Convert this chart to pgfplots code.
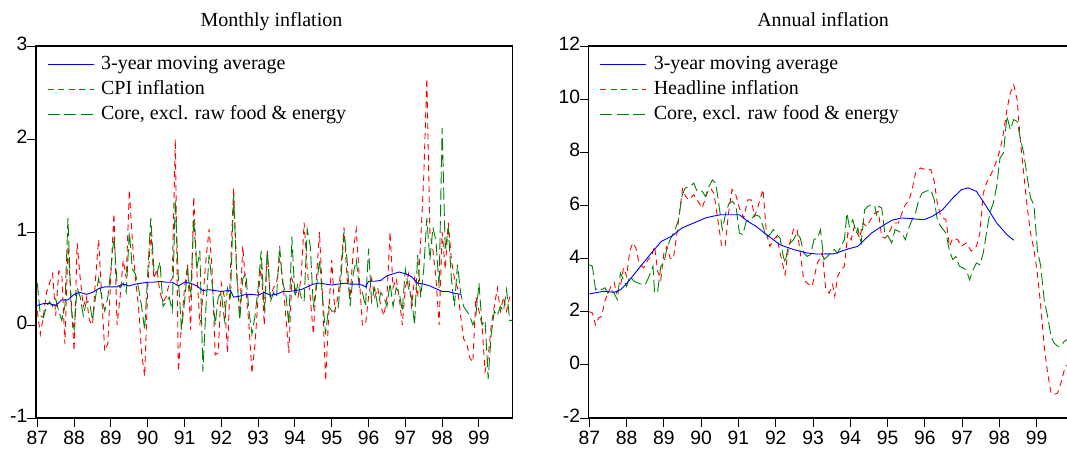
\documentclass[border=0pt]{standalone}
\usepackage{fontspec}
\setmainfont{Liberation Serif}
\newfontfamily\arialf{Liberation Sans}
\usepackage{pgfplots}
\pgfplotsset{compat=1.18}
\usepackage{pgfplotstable}

\definecolor{eblue}{RGB}{0,0,255}
\definecolor{ered}{RGB}{255,0,0}
\definecolor{egreen}{RGB}{0,128,0}

% monthly data, m = months since Jan 1987
\pgfplotstableread{
m v
0 0.15
1 -0.1
2 0.1
3 0.35
4 0.45
5 0.55
6 0.1
7 0.58
8 0.55
9 -0.2
10 0.85
11 0.3
12 -0.28
13 0.88
14 0.5
15 0.2
16 0.3
17 0.05
18 0.0
19 0.5
20 0.92
21 0.3
22 -0.28
23 -0.2
24 0.55
25 1.2
26 0.0
27 0.3
28 0.7
29 0.5
30 1.45
31 0.9
32 0.5
33 0.2
34 -0.3
35 -0.55
36 0.4
37 1.0
38 0.5
39 0.6
40 0.35
41 0.25
42 0.3
43 0.45
44 0.5
45 2.0
46 -0.5
47 0.0
48 0.4
49 0.65
50 -0.05
51 1.38
52 0.6
53 0.0
54 0.3
55 0.7
56 1.03
57 0.6
58 -0.32
59 -0.3
60 0.45
61 0.3
62 -0.3
63 0.6
64 1.48
65 0.6
66 0.1
67 0.85
68 0.4
69 0.0
70 -0.52
71 -0.2
72 0.3
73 0.65
74 0.0
75 0.8
76 0.3
77 0.4
78 0.45
79 0.7
80 0.5
81 0.1
82 -0.3
83 0.5
84 0.4
85 0.3
86 0.5
87 1.1
88 0.6
89 0.3
90 -0.1
91 0.5
92 1.0
93 0.3
94 -0.6
95 0.1
96 0.7
97 0.15
98 0.3
99 0.6
100 1.05
101 0.5
102 0.3
103 0.8
104 1.03
105 0.5
106 0.0
107 0.0
108 0.3
109 0.5
110 0.3
111 0.4
112 0.2
113 0.1
114 0.3
115 1.0
116 0.4
117 0.5
118 0.3
119 0.0
120 0.4
121 0.55
122 0.2
123 0.5
124 0.3
125 0.9
126 1.6
127 2.65
128 1.0
129 0.8
130 0.5
131 0.0
132 1.0
133 0.6
134 1.1
135 0.7
136 0.5
137 0.4
138 0.1
139 -0.15
140 -0.2
141 -0.35
142 -0.4
143 0.3
144 0.15
145 0.0
146 -0.5
147 -0.35
148 0.0
149 0.2
150 0.4
151 0.15
152 0.3
153 0.15
154 0.3
155 0.3
}\cpiM

\pgfplotstableread{
m v
0 0.45
1 0.1
2 0.08
3 0.2
4 0.25
5 0.2
6 0.28
7 0.15
8 0.05
9 0.2
10 1.15
11 0.2
12 -0.05
13 0.4
14 0.3
15 0.1
16 0.25
17 0.25
18 0.05
19 0.3
20 0.5
21 0.3
22 0.15
23 0.3
24 0.6
25 0.95
26 0.45
27 0.4
28 0.45
29 0.35
30 1.0
31 0.6
32 0.55
33 0.4
34 0.2
35 -0.05
36 0.55
37 1.15
38 0.6
39 0.55
40 0.68
41 0.2
42 0.25
43 0.3
44 0.15
45 1.35
46 0.5
47 -0.05
48 0.25
49 0.6
50 0.3
51 1.15
52 0.6
53 0.8
54 -0.5
55 0.2
56 0.75
57 0.45
58 0.0
59 0.3
60 0.35
61 0.05
62 0.4
63 0.3
64 1.4
65 0.55
66 0.05
67 0.5
68 0.55
69 0.15
70 -0.1
71 0.1
72 0.4
73 0.8
74 0.15
75 0.8
76 0.25
77 0.35
78 0.3
79 0.85
80 0.45
81 0.35
82 0.0
83 0.95
84 0.3
85 0.45
86 0.3
87 0.25
88 1.03
89 0.85
90 0.2
91 0.4
92 0.7
93 0.3
94 -0.1
95 0.2
96 0.15
97 0.15
98 0.15
99 0.5
100 1.0
101 0.7
102 0.2
103 0.55
104 0.7
105 0.4
106 0.35
107 0.2
108 0.82
109 0.25
110 0.4
111 0.2
112 0.35
113 0.3
114 0.2
115 0.45
116 0.2
117 0.4
118 0.35
119 0.15
120 0.6
121 0.4
122 0.3
123 0.0
124 0.75
125 0.3
126 0.6
127 1.15
128 0.7
129 1.05
130 0.9
131 0.4
132 2.12
133 0.8
134 1.05
135 0.5
136 0.2
137 0.65
138 0.35
139 0.2
140 0.15
141 0.1
142 0.0
143 0.1
144 0.45
145 0.0
146 0.05
147 -0.58
148 -0.1
149 0.15
150 0.1
151 0.2
152 0.15
153 0.38
154 0.05
155 0.05
}\coreM

\pgfplotstableread{
m v
0 0.21
2 0.23
4 0.23
6 0.21
8 0.27
10 0.27
12 0.33
14 0.35
16 0.33
18 0.35
20 0.39
22 0.41
24 0.41
26 0.41
28 0.44
30 0.42
32 0.44
34 0.45
36 0.46
38 0.46
40 0.47
42 0.46
44 0.46
46 0.42
48 0.46
50 0.45
52 0.42
54 0.37
56 0.38
58 0.37
60 0.36
62 0.37
63 0.37
64 0.30
66 0.31
68 0.33
70 0.33
72 0.32
74 0.35
76 0.32
78 0.33
80 0.36
82 0.36
84 0.37
86 0.38
88 0.41
90 0.44
92 0.45
94 0.44
96 0.43
98 0.44
100 0.45
102 0.44
104 0.44
106 0.43
107 0.41
108 0.47
110 0.47
112 0.48
114 0.53
116 0.55
118 0.57
120 0.55
122 0.52
124 0.45
126 0.44
128 0.42
130 0.39
132 0.36
134 0.36
136 0.34
138 0.33
}\maM

% annual data
\pgfplotstableread{
m v
0 2.0
1 1.95
2 1.5
3 1.77
4 1.83
5 2.4
6 2.7
7 2.95
8 3.1
8.7 2.7
10 2.95
11 3.65
12 3.33
13 4.28
14 4.59
15 4.4
16 3.83
17.5 3.65
18.9 3.96
20 4.08
21 4.46
22 3.52
23 3.2
24 4.2
25 4.46
26 4.02
27 3.98
28 4.77
29 5.71
30 6.62
31 6.34
32 6.21
33.6 6.4
34.7 6.21
36.3 5.9
37.9 6.46
39 6.65
40.1 6.46
41.2 5.59
42.6 4.46
43.7 4.46
44.8 5.71
45.9 6.6
47 6.46
48.3 5.9
49.7 5.53
51 6.21
52.1 6.21
53.2 5.59
54.3 5.97
55.9 6.6
57 4.96
58.1 4.46
59.2 4.71
60.3 4.84
61.4 4.21
63 3.4
64.1 4.4
65.7 5.09
66.8 5.15
67.9 4.21
69 3.2
70.1 3.08
71.7 2.95
73.4 3.83
75 4.21
76.1 2.83
77.2 2.7
78.3 3.02
79 2.58
79.9 3.33
81 3.58
82.1 3.71
83.2 4.96
84.3 4.71
85.3 5.21
87 4.77
88.1 5.34
89.2 5.21
90.2 5.4
91.9 5.71
93 5.78
94.1 4.84
95.1 4.77
96.2 4.9
97.9 5.34
99.5 5.34
100.6 5.71
101.7 6.03
102.8 6.15
103.9 6.6
105 7.22
106.6 7.41
108.2 7.35
109.9 7.35
111 6.91
112 6.09
113.1 5.59
114.8 5.46
115.9 4.46
117 4.77
118.6 4.71
119.7 4.46
121.3 4.59
122.9 4.28
124.6 4.46
125.7 4.96
126.8 6.46
127.8 6.84
129.5 7.22
130.6 7.53
132.2 8.09
133.3 8.72
134.4 9.6
135.5 10.23
136.6 10.54
137.7 9.98
138.7 8.47
139.8 7.22
140.9 5.97
142 4.96
143.1 4.34
144.2 3.46
145.3 2.2
146.4 0.7
147.5 -0.3
148.6 -1.06
149.6 -1.12
150.7 -1.06
151.8 -0.68
152.9 -0.18
153.8 0.0
155 0.2
}\headA

\pgfplotstableread{
m v
0 3.77
1 3.7
2 2.83
3 2.9
4 2.83
5 2.9
6 2.7
7 2.83
8 2.7
9 2.45
10 3.46
11 3.2
12 2.95
13 3.33
14.5 3.14
15.6 3.08
17 3.02
18 3.02
19 3.27
20.5 3.71
21 2.7
22 2.77
23 3.71
24 3.83
25 4.4
26 4.71
27.6 5.09
28.7 5.46
29.8 6.34
30.8 6.65
32.5 6.71
33.6 6.84
34.7 6.53
36.3 6.53
37.4 6.34
38.5 6.71
39.6 6.96
40.7 6.84
41.7 6.03
42.8 5.09
43.9 5.71
45 6.09
46.1 6.15
47.2 5.97
48.3 4.96
49.4 4.9
50.5 5.4
52.1 5.46
53.2 5.65
54.8 5.59
55.9 5.21
57 4.77
58.1 4.9
59.2 5.09
60.3 4.9
61.4 4.77
62.2 4.21
63 3.83
64.1 4.52
65.7 4.71
66.8 4.96
67.9 4.77
69 4.21
70.1 4.08
71.2 4.15
72.3 4.71
73.4 4.77
74.4 5.09
75.5 3.96
76.6 4.08
77.7 4.21
78.8 4.34
79.9 4.21
81 4.46
82.1 4.71
82.9 5.71
83.7 5.21
84.8 5.46
85.9 4.96
86.4 5.15
87.5 4.59
88.6 5.84
89.7 5.97
90.8 6.03
91.9 5.97
92.4 5.65
93.2 5.97
94.1 5.9
95.1 4.96
96.2 4.84
97.3 4.59
98.4 5.09
99.5 5.03
100.6 4.96
101.7 4.71
102.8 5.15
103.9 5.46
105 5.71
106 6.21
107.1 6.46
108.2 6.53
109.9 6.59
111 6.21
112 5.46
113.1 5.21
114.8 4.96
115.9 4.28
117 3.96
118 4.08
119.1 3.71
120.2 3.65
121.3 3.58
122.4 3.2
123.5 3.58
124.6 3.83
125.7 3.77
126.8 4.21
127.8 4.96
128.9 5.71
130 6.09
131.1 6.71
132.2 7.79
133.3 7.97
134.4 9.36
135.5 8.85
136.6 9.23
137.7 9.16
138.7 8.54
139.8 7.97
140.9 7.09
142 6.28
143.1 6.03
144.2 4.34
145.3 3.71
146.4 2.45
147.5 1.83
148.6 1.07
149.6 0.82
150.7 0.7
151.8 0.7
152.9 0.89
153.8 0.95
155 0.95
}\coreA

\pgfplotstableread{
m v
0 2.67
4.7 2.77
8 2.73
10.1 2.83
12.3 3.1
15.6 3.58
19.9 4.2
23.2 4.65
26.5 4.84
29.8 5.15
33 5.31
37.4 5.53
39.6 5.59
42.3 5.65
48.3 5.65
51 5.4
53.7 5.21
57 4.9
61.4 4.52
65.7 4.34
70.1 4.21
73.4 4.17
78.8 4.18
83.2 4.36
86.4 4.46
90.8 4.96
94.1 5.21
97.3 5.44
100.6 5.53
103.9 5.5
107.7 5.46
110.4 5.59
113.7 5.84
117 6.28
119.7 6.59
121.9 6.66
124.6 6.53
127.8 5.96
131.1 5.34
134.4 4.9
136.6 4.69
}\maA

\pgfplotsset{
  panel/.style={
    scale only axis, anchor=south west, height=372pt,
    axis line style={line width=1.5pt},
    tick align=outside, major tick length=8.5pt,
    every tick/.style={black, line width=1pt},
    xtick pos=bottom, ytick pos=left,
    xtick={0,12,24,36,48,60,72,84,96,108,120,132,144},
    xticklabels={87,88,89,90,91,92,93,94,95,96,97,98,99},
    tick label style={font=\arialf\fontsize{19.3}{21}\selectfont},
    xticklabel style={inner sep=0pt, anchor=north, yshift=-4.5pt},
    yticklabel style={inner sep=0pt, anchor=east, xshift=0pt, yshift=2pt},
    title style={font=\fontsize{20}{24}\selectfont, anchor=base, inner sep=0pt, yshift=14pt},
    legend style={draw=none, fill=none, at={(axis description cs:0,1)}, anchor=north west,
      xshift=11pt, yshift=-5.5pt, font=\fontsize{20}{24}\selectfont, inner sep=0pt,
      nodes={inner sep=3pt, text height=14.5pt, text depth=4.5pt}, row sep=0pt},
    legend cell align=left,
    legend image code/.code={\draw[##1] (0pt,0pt) -- (46pt,0pt); \path (50pt,0pt);},
  },
  mablue/.style={eblue, line width=0.9pt},
  cpired/.style={ered, line width=0.9pt, dash pattern=on 6pt off 4.5pt},
  coregreen/.style={egreen, line width=0.9pt, dash pattern=on 12pt off 4.5pt},
}

\begin{document}
\begin{tikzpicture}
\useasboundingbox (0,0) rectangle (1067pt,448pt);
\clip (0,0) rectangle (1067pt,448pt);

\begin{axis}[panel, at={(36pt,30pt)}, width=476.7pt,
  xmin=-0.42, xmax=155, ymin=-1, ymax=3,
  ytick={-1,0,1,2,3}, yticklabels={-1,0,1,2,3},
  title={Monthly inflation}, title style={at={(axis description cs:0.494,1)}}]
\addlegendimage{mablue}
\addlegendentry{3-year moving average}
\addlegendimage{cpired}
\addlegendentry{CPI inflation}
\addlegendimage{coregreen}
\addlegendentry{Core, excl. raw food \& energy}
\addplot[cpired, forget plot] table[x=m, y=v] {\cpiM};
\addplot[coregreen, forget plot] table[x=m, y=v] {\coreM};
\addplot[mablue, forget plot] table[x=m, y=v] {\maM};
\end{axis}

\begin{axis}[panel, at={(588.7pt,30pt)}, width=485.3pt,
  xmin=-0.2, xmax=156, ymin=-2, ymax=12,
  ytick={-2,0,2,4,6,8,10,12}, yticklabels={-2,0,2,4,6,8,10,12},
  title={Annual inflation}, title style={at={(axis description cs:0.483,1)}}]
\addlegendimage{mablue}
\addlegendentry{3-year moving average}
\addlegendimage{cpired}
\addlegendentry{Headline inflation}
\addlegendimage{coregreen}
\addlegendentry{Core, excl. raw food \& energy}
\addplot[cpired, forget plot] table[x=m, y=v] {\headA};
\addplot[coregreen, forget plot] table[x=m, y=v] {\coreA};
\addplot[mablue, forget plot] table[x=m, y=v] {\maA};
\end{axis}
\end{tikzpicture}
\end{document}
